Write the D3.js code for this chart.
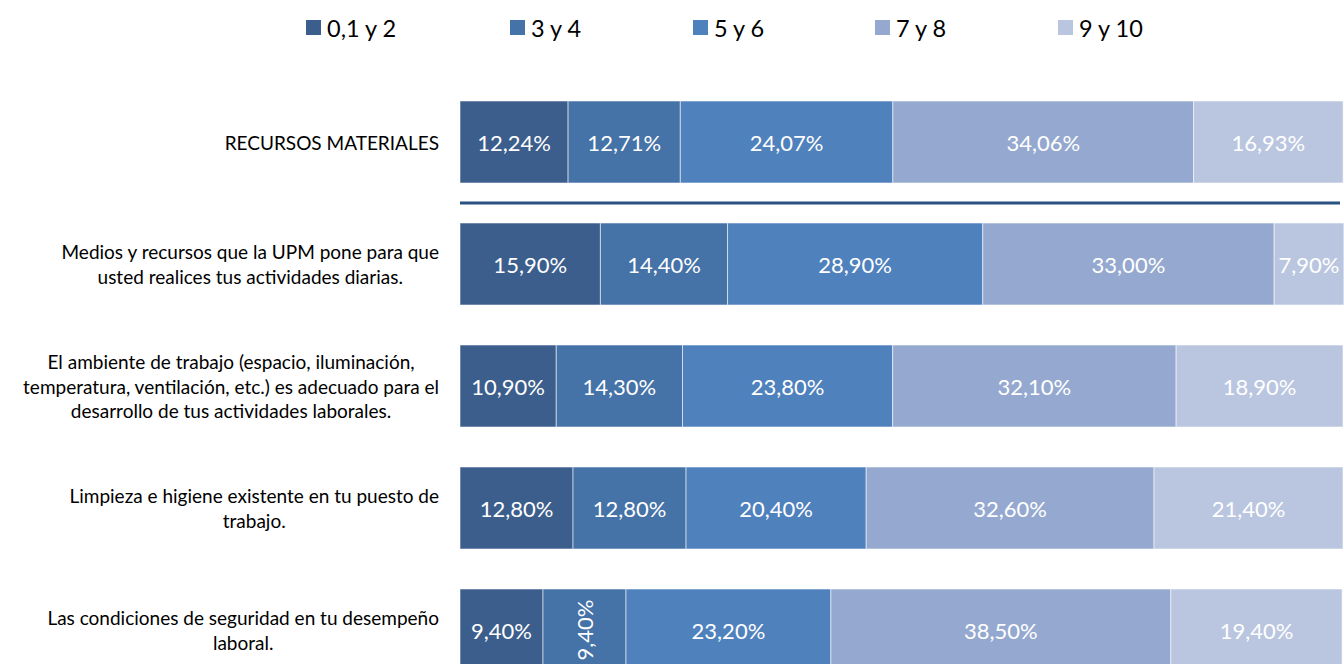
<!DOCTYPE html>
<html>
<head>
<meta charset="utf-8">
<script src="https://cdn.jsdelivr.net/npm/d3@7"></script>
<style>
  body { margin: 0; background: #fff; }
  svg { display: block; font-family: Lato, "Open Sans", sans-serif; }
  .catLabel { font-size: 19px; fill: #000; }
  .legendText { font-size: 23.5px; fill: #000; }
  .valueLabel { font-size: 22px; fill: #fff; }
</style>
</head>
<body>
<svg id="chart" width="1344" height="664"></svg>
<script>
var categories = [
    ['RECURSOS MATERIALES'],
    ['Medios y recursos que la UPM pone para que', 'usted realices tus actividades diarias.'],
    ['El ambiente de trabajo (espacio, iluminación,', 'temperatura, ventilación, etc.) es adecuado para el', 'desarrollo de tus actividades laborales.'],
    ['Limpieza e higiene existente en tu puesto de', 'trabajo.'],
    ['Las condiciones de seguridad en tu desempeño', 'laboral.']
];
var seriesNames = ['0,1 y 2', '3 y 4', '5 y 6', '7 y 8', '9 y 10'];
var s012 = [12.24, 15.90, 10.90, 12.80, 9.40];
var s34 = [12.71, 14.40, 14.30, 12.80, 9.40];
var s56 = [24.07, 28.90, 23.80, 20.40, 23.20];
var s78 = [34.06, 33.00, 32.10, 32.60, 38.50];
var s910 = [16.93, 7.90, 18.90, 21.40, 19.40];
var colors = ['#3b5e8c', '#4572a7', '#4f81bd', '#95a9d0', '#bac6e0'];
// labels Excel turned sideways: [category, series]
var rotatedLabels = [[4, 1]];

var svg = d3.select('#chart');

var rows = categories.map(function(c, i) {
    return { idx: i, v0: s012[i], v1: s34[i], v2: s56[i], v3: s78[i], v4: s910[i] };
});
var keys = ['v0', 'v1', 'v2', 'v3', 'v4'];
var stacked = d3.stack().keys(keys)(rows);

var x = d3.scaleLinear().domain([0, 100]).range([460, 1343]);
var y = d3.scaleBand()
    .domain(d3.range(categories.length))
    .range([81, 81 + 5 * 122])
    .paddingInner(0.328)
    .paddingOuter(0.164);

var fmt = function(v) { return d3.format('.2f')(v).replace('.', ',') + '%'; };

var layer = svg.selectAll('.layer')
    .data(stacked)
    .enter().append('g')
    .attr('fill', function(d, i) { return colors[i]; });

layer.selectAll('rect')
    .data(function(d) { return d; })
    .enter().append('rect')
    .attr('x', function(d) { return x(d[0]); })
    .attr('y', function(d, i) { return y(i); })
    .attr('width', function(d) { return x(d[1]) - x(d[0]); })
    .attr('height', y.bandwidth())
    .attr('stroke', '#ffffff')
    .attr('stroke-opacity', 0.55)
    .attr('stroke-width', 1);

layer.each(function(ld, si) {
    d3.select(this).selectAll('text')
        .data(ld)
        .enter().append('text')
        .attr('class', 'valueLabel')
        .attr('text-anchor', 'middle')
        .attr('dominant-baseline', 'central')
        .attr('transform', function(d, ci) {
            var cx = (x(d[0]) + x(d[1])) / 2;
            var cy = y(ci) + y.bandwidth() / 2;
            var rot = rotatedLabels.some(function(r) { return r[0] == ci && r[1] == si; });
            return 'translate(' + cx + ',' + cy + ')' + (rot ? ' rotate(-90)' : '');
        })
        .text(function(d) { return fmt(d[1] - d[0]); });
});

// separator under the summary row
var sepY = (y(0) + y.bandwidth() + y(1)) / 2;
svg.append('line')
    .attr('x1', x(0))
    .attr('x2', 1340)
    .attr('y1', sepY)
    .attr('y2', sepY)
    .attr('stroke', '#2b5082')
    .attr('stroke-width', 3);

// category labels: block right-aligned, lines centred
var lineH = 24.5;
categories.forEach(function(lines, i) {
    var g = svg.append('g');
    var texts = lines.map(function(l) {
        return g.append('text').attr('class', 'catLabel').attr('text-anchor', 'middle').text(l);
    });
    var maxW = d3.max(texts, function(t) { return t.node().getComputedTextLength(); });
    var cx = 439 - maxW / 2;
    var cy = y(i) + y.bandwidth() / 2;
    texts.forEach(function(t, k) {
        t.attr('x', cx)
         .attr('y', cy + (k - (lines.length - 1) / 2) * lineH)
         .attr('dominant-baseline', 'central');
    });
});

// legend
var legendX = [306, 510, 693, 875, 1058];
var legend = svg.selectAll('.legendItem')
    .data(seriesNames)
    .enter().append('g')
    .attr('transform', function(d, i) { return 'translate(' + legendX[i] + ',20)'; });
legend.append('rect')
    .attr('width', 15)
    .attr('height', 15)
    .attr('fill', function(d, i) { return colors[i]; });
legend.append('text')
    .attr('class', 'legendText')
    .attr('x', 21)
    .attr('y', 8)
    .attr('dominant-baseline', 'central')
    .text(function(d) { return d; });
</script>
</body>
</html>
